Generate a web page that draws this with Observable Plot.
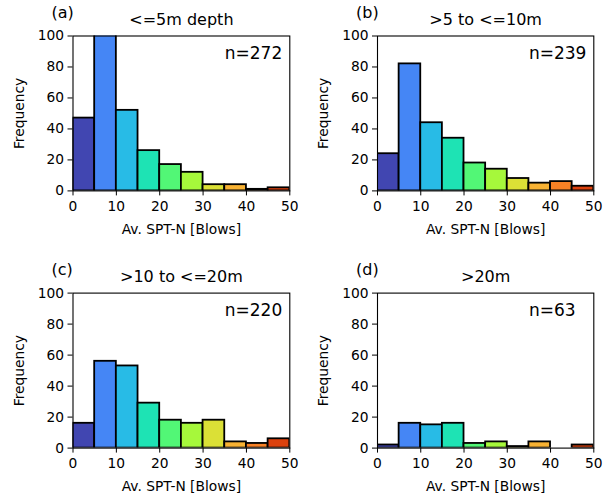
<!DOCTYPE html>
<html><head><meta charset="utf-8">
<script src="https://cdn.jsdelivr.net/npm/d3@7"></script>
<script src="https://cdn.jsdelivr.net/npm/@observablehq/plot@0.6"></script>
<style>
body{margin:0;background:#fff;}
#wrap{position:relative;width:608px;height:496px;overflow:hidden;}
.panel{position:absolute;}
</style></head><body><div id="wrap"></div>
<script>
// ---- data ----
const binEdges = [0, 5, 10, 15, 20, 25, 30, 35, 40, 45, 50];
const panelLetters = ["(a)", "(b)", "(c)", "(d)"];
const panelTitles = ["<=5m depth", ">5 to <=10m", ">10 to <=20m", ">20m"];
const sampleSizes = [272, 239, 220, 63];
const countsA = [47, 107, 52, 26, 17, 12, 4, 4, 1, 2];
const countsB = [24, 82, 44, 34, 18, 14, 8, 5, 6, 3];
const countsC = [16, 56, 53, 29, 18, 16, 18, 4, 3, 6];
const countsD = [2, 16, 15, 16, 3, 4, 1, 4, 0, 2];
const xTicks = [0, 10, 20, 30, 40, 50];
const yTicks = [0, 20, 40, 60, 80, 100];
const xLabel = "Av. SPT-N [Blows]";
const yLabel = "Frequency";

// ---- style ----
const binColors = ["#4146b1", "#4586f5", "#28bbe6", "#1ee3b4", "#52f776", "#a6f83b", "#dbe036", "#f8b233", "#f88125", "#dc420e"];
const FONT = "DejaVu Sans, sans-serif";
const allCounts = [countsA, countsB, countsC, countsD];

const layout = [
  {left: 0,   top: 0,   mL: 72.5, mR: 14.7, mT: 35.5, mB: 57.6},
  {left: 304, top: 0,   mL: 73,   mR: 14.7, mT: 35.5, mB: 57.6},
  {left: 0,   top: 248, mL: 72.5, mR: 14.7, mT: 44.6, mB: 48.4},
  {left: 304, top: 248, mL: 73,   mR: 14.7, mT: 44.6, mB: 48.4}
];
const W = 304, H = 248;
const wrap = document.getElementById("wrap");

allCounts.forEach((counts, p) => {
  const L = layout[p];
  const rows = counts.map((c, i) => ({x1: binEdges[i], x2: binEdges[i + 1], count: c, color: binColors[i]}));
  const frameW = W - L.mL - L.mR;
  const chart = Plot.plot({
    width: W, height: H,
    marginLeft: L.mL, marginRight: L.mR, marginTop: L.mT, marginBottom: L.mB,
    style: {fontFamily: FONT, fontSize: "13.5px", color: "#000", background: "transparent", overflow: "visible"},
    x: {domain: [0, 50]},
    y: {domain: [0, 100]},
    marks: [
      Plot.rectY(rows, {x1: "x1", x2: "x2", y1: 0, y2: "count", fill: "color", stroke: "#000", strokeWidth: 1.8, clip: true}),
      Plot.frame({stroke: "#000", strokeWidth: 1.1}),
      Plot.axisX({ticks: xTicks, tickSize: 5, tickPadding: 5, tickFormat: d => String(d), fontSize: 13.8, stroke: "#000", strokeWidth: 1, fill: "#000",
        label: xLabel, labelAnchor: "center", labelArrow: "none", labelOffset: 43}),
      Plot.axisY({ticks: yTicks, tickSize: 5, tickPadding: 4, tickFormat: d => String(d), fontSize: 13.8, stroke: "#000", strokeWidth: 1, fill: "#000",
        label: yLabel, labelAnchor: "center", labelArrow: "none", labelOffset: 59}),
      Plot.text([panelLetters[p]], {frameAnchor: "top-left", textAnchor: "start", lineAnchor: "bottom", dx: -21.5, dy: -17.7, fontSize: 16, fill: "#000"}),
      Plot.text([panelTitles[p]], {frameAnchor: "top", textAnchor: "middle", lineAnchor: "bottom", dy: -11.2, fontSize: 16, fill: "#000"}),
      Plot.text([sampleSizes[p]], {text: d => "n=" + d, frameAnchor: "top-left", textAnchor: "start", lineAnchor: "bottom", dx: 0.7 * frameW, dy: 23.3, fontSize: 17, fill: "#000"})
    ]
  });
  chart.classList.add("panel");
  chart.style.left = L.left + "px";
  chart.style.top = L.top + "px";
  wrap.appendChild(chart);
});
</script>
</body></html>
